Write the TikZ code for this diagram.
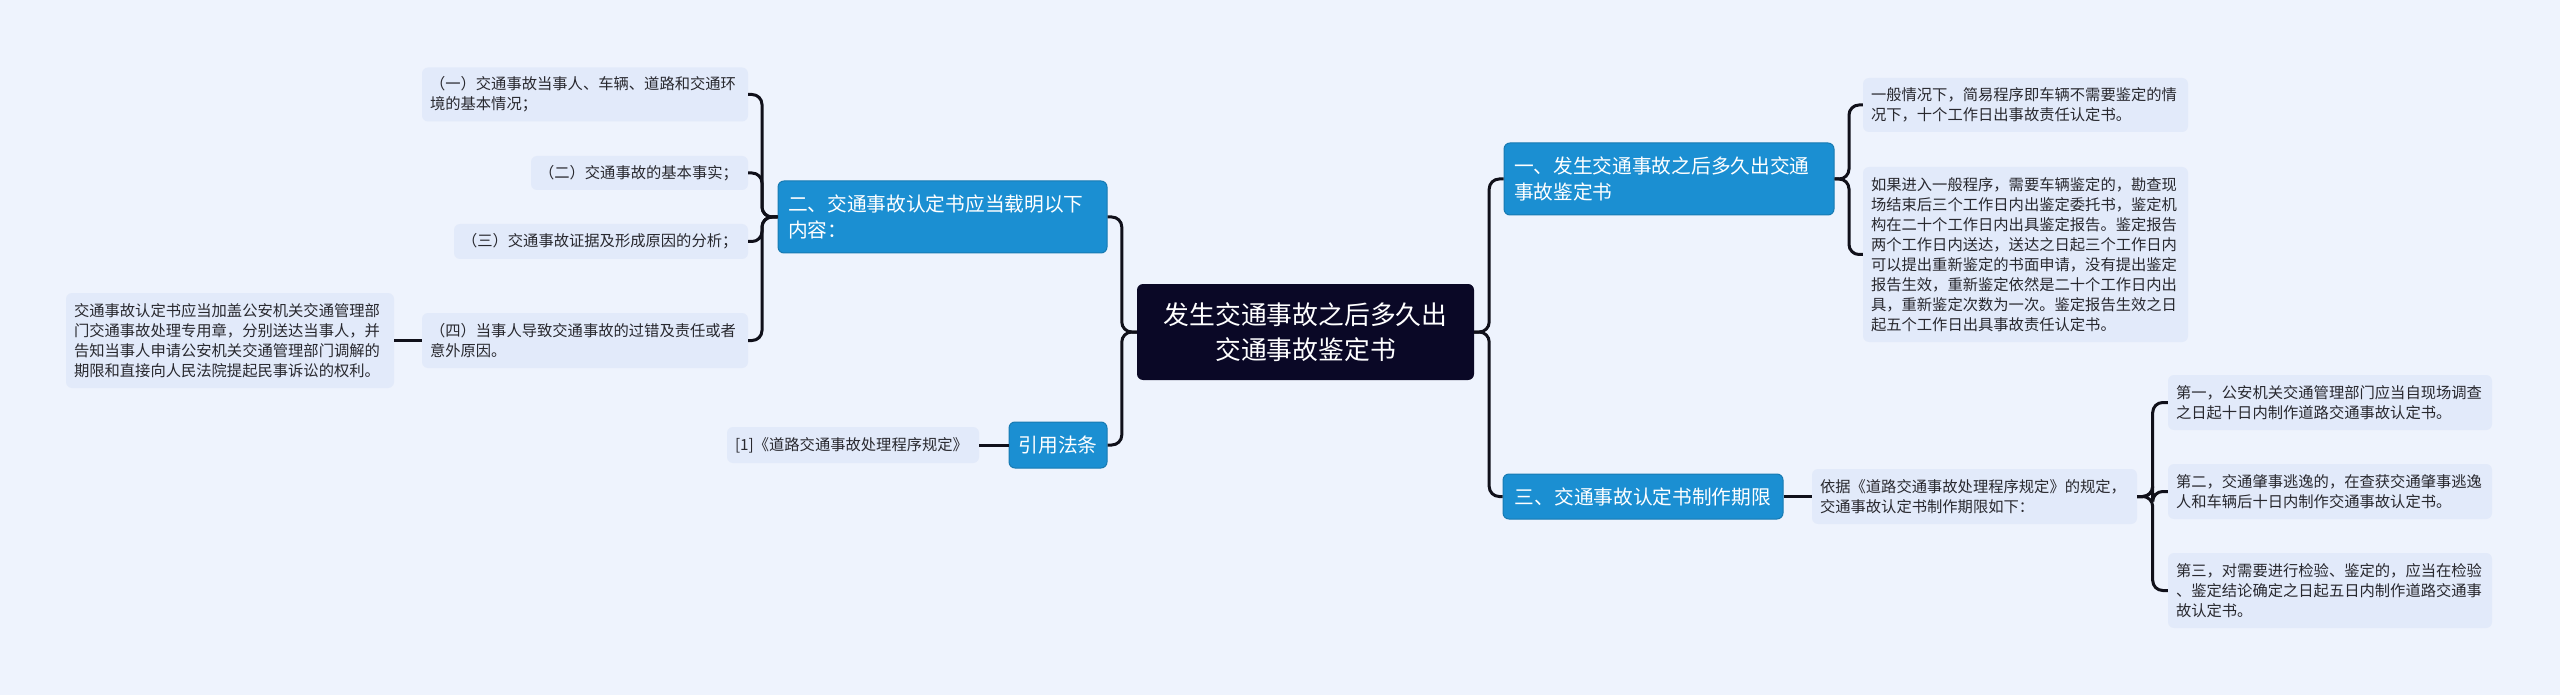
\documentclass[tikz,border=0pt]{standalone}
\usepackage{fontspec}
\setmainfont{Noto Sans CJK SC}
\usepackage{tikz}
\usetikzlibrary{positioning}
\usepackage{xcolor}
\definecolor{pagebg}{RGB}{238,243,253}
\definecolor{leafbg}{RGB}{226,234,250}
\definecolor{branchbg}{RGB}{27,143,210}
\definecolor{rootbg}{RGB}{10,8,38}
\definecolor{linkc}{RGB}{16,16,26}
\definecolor{leaftext}{RGB}{40,40,46}

\begin{document}
\begin{tikzpicture}[x=1pt, y=-1pt,
  leaf/.style={fill=leafbg, rounded corners=6pt, inner xsep=8pt, inner ysep=0pt, align=left, text=leaftext, font=\fontsize{15.3}{20}\selectfont},
  branch/.style={fill=branchbg, draw=branchbg!85!black, line width=1pt, rounded corners=6pt, inner xsep=10pt, inner ysep=0pt, align=left, text=white, font=\fontsize{19.7}{26.7}\selectfont},
  rootbox/.style={fill=rootbg, rounded corners=6pt, inner sep=0pt, align=center, text=white, minimum width=337pt, minimum height=96pt, font=\fontsize{25.8}{35}\selectfont},
  link/.style={draw=linkc, line width=3pt, rounded corners=10pt}]
  \fill[pagebg] (0,0) rectangle (2560,695);
  \useasboundingbox (0,0) rectangle (2560,695);

  \node[rootbox] (root) at (1305.5, 332) {发生交通事故之后多久出\\交通事故鉴定书};

  % left half
  \node[branch, text width=309pt, minimum height=72pt] (b2) at (942.5, 217) {二、交通事故认定书应当载明以下\\内容：};
  \node[branch, minimum width=98pt, minimum height=46pt, inner xsep=0pt] (cite) at (1058, 445) {引用法条};

  \node[leaf, text width=310pt, minimum height=54pt] (c1) at (585, 94.5) {（一）交通事故当事人、车辆、道路和交通环\\境的基本情况；};
  \node[leaf, text width=201pt, minimum height=34pt] (c2) at (639.5, 173) {（二）交通事故的基本事实；};
  \node[leaf, text width=278pt, minimum height=35pt] (c3) at (601, 241.5) {（三）交通事故证据及形成原因的分析；};
  \node[leaf, text width=310pt, minimum height=55pt] (c4) at (585, 340.5) {（四）当事人导致交通事故的过错及责任或者\\意外原因。};
  \node[leaf, text width=312pt, minimum height=95pt] (c4a) at (230, 340.5) {交通事故认定书应当加盖公安机关交通管理部\\门交通事故处理专用章，分别送达当事人，并\\告知当事人申请公安机关交通管理部门调解的\\期限和直接向人民法院提起民事诉讼的权利。};
  \node[leaf, text width=236pt, minimum height=36pt] (ref) at (853, 445) {[1]《道路交通事故处理程序规定》};

  % right half
  \node[branch, text width=310pt, minimum height=72pt] (b1) at (1669, 179) {一、发生交通事故之后多久出交通\\事故鉴定书};
  \node[branch, minimum width=280pt, minimum height=45pt] (b3) at (1643, 496.5) {三、交通事故认定书制作期限};

  \node[leaf, text width=309pt, minimum height=54pt] (a1) at (2025.5, 105) {一般情况下，简易程序即车辆不需要鉴定的情\\况下，十个工作日出事故责任认定书。};
  \node[leaf, text width=309pt, minimum height=175pt] (a2) at (2025.5, 254.5) {如果进入一般程序，需要车辆鉴定的，勘查现\\场结束后三个工作日内出鉴定委托书，鉴定机\\构在二十个工作日内出具鉴定报告。鉴定报告\\两个工作日内送达，送达之日起三个工作日内\\可以提出重新鉴定的书面申请，没有提出鉴定\\报告生效，重新鉴定依然是二十个工作日内出\\具，重新鉴定次数为一次。鉴定报告生效之日\\起五个工作日出具事故责任认定书。};

  \node[leaf, text width=309pt, minimum height=55pt] (d0) at (1974.5, 496.5) {依据《道路交通事故处理程序规定》的规定，\\交通事故认定书制作期限如下：};
  \node[leaf, text width=308pt, minimum height=55pt] (d1) at (2330, 402.5) {第一，公安机关交通管理部门应当自现场调查\\之日起十日内制作道路交通事故认定书。};
  \node[leaf, text width=308pt, minimum height=55pt] (d2) at (2330, 491.5) {第二，交通肇事逃逸的，在查获交通肇事逃逸\\人和车辆后十日内制作交通事故认定书。};
  \node[leaf, text width=308pt, minimum height=75pt] (d3) at (2330, 590.5) {第三，对需要进行检验、鉴定的，应当在检验\\、鉴定结论确定之日起五日内制作道路交通事\\故认定书。};

  % connectors
  \foreach \b in {b2,cite}
    \draw[link] (root.west) -- ++(-15,0) |- (\b.east);
  \foreach \c in {c1,c2,c3,c4}
    \draw[link] (b2.west) -- ++(-15.5,0) |- (\c.east);
  \draw[link] (c4.west) -- (c4a.east);
  \draw[link] (cite.west) -- (ref.east);

  \foreach \b in {b1,b3}
    \draw[link] (root.east) -- ++(15,0) |- (\b.west);
  \foreach \c in {a1,a2}
    \draw[link] (b1.east) -- ++(14.5,0) |- (\c.west);
  \draw[link] (b3.east) -- (d0.west);
  \foreach \c in {d1,d2,d3}
    \draw[link] (d0.east) -- ++(15.5,0) |- (\c.west);
\end{tikzpicture}
\end{document}
